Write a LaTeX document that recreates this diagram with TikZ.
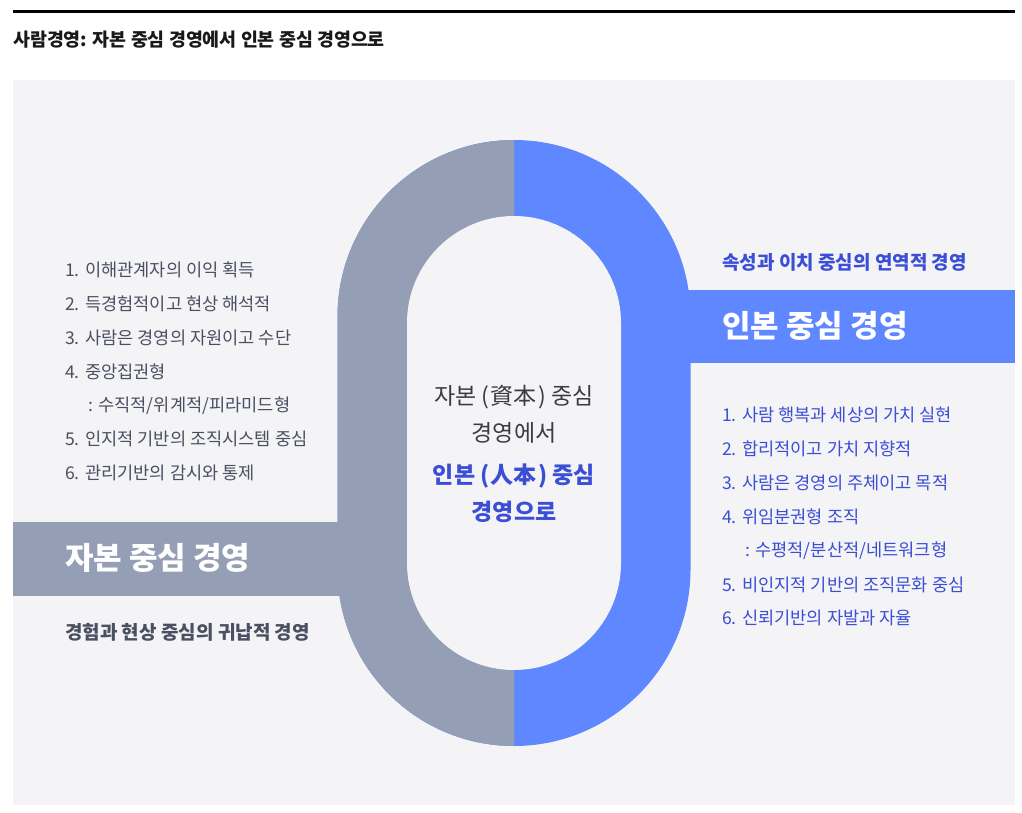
\documentclass[tikz,border=0pt]{standalone}
\usepackage{fontspec}
\setmainfont{Noto Sans CJK KR}
\definecolor{panel}{HTML}{F4F4F6}
\definecolor{ringgray}{HTML}{949FB6}
\definecolor{ringblue}{HTML}{5F87FF}
\definecolor{txtgray}{HTML}{4A5061}
\definecolor{txtblue}{HTML}{3B4ED6}
\definecolor{txtdark}{HTML}{3A3C42}
\newcommand{\pgap}{\hspace{5pt}}
\newcommand{\igap}{\hspace{1.5pt}}
\tikzset{
  lbl/.style={inner sep=0pt, anchor=west},
  listgray/.style={lbl, text=txtgray, font=\fontsize{17.6}{20}\selectfont},
  listblue/.style={lbl, text=txtblue, font=\fontsize{17.6}{20}\selectfont},
  bigwhite/.style={lbl, text=white, font=\fontsize{31}{34}\selectfont\bfseries},
  subhead/.style={lbl, font=\fontsize{19}{22}\selectfont\bfseries},
  centertxt/.style={inner sep=0pt, anchor=center, font=\fontsize{23}{26}\selectfont},
}
\begin{document}
\begin{tikzpicture}[x=1pt,y=-1pt]
\useasboundingbox (0,0) rectangle (1022,813);
\fill[white] (0,0) rectangle (1022,813);
% top rule and title
\fill[black] (13,10) rectangle (1015,13);
\node[lbl, text=black!90, font=\fontsize{18.4}{22}\selectfont\bfseries] (title) at (13,40) {사람경영: 자본 중심 경영에서 인본 중심 경영으로};
% panel
\fill[panel] (13,80) rectangle (1015,805);
% ring
\fill[ringblue] (337.5,316.5) arc[start angle=180, end angle=0, radius=176.5pt] -- (690.5,569.5) arc[start angle=0, end angle=-180, radius=176.5pt] -- cycle;
\begin{scope}
\clip (300,100) rectangle (514,780);
\fill[ringgray] (337.5,316.5) arc[start angle=180, end angle=0, radius=176.5pt] -- (690.5,569.5) arc[start angle=0, end angle=-180, radius=176.5pt] -- cycle;
\end{scope}
\fill[panel] (407,323) arc[start angle=180, end angle=0, radius=107pt] -- (621,563) arc[start angle=0, end angle=-180, radius=107pt] -- cycle;
% bars
\fill[ringgray] (13,522) rectangle (360,596);
\fill[ringblue] (670,290) rectangle (1015,363);
\node[bigwhite] (capital) at (65,558) {자본 중심 경영};
\node[bigwhite] (human) at (722,326) {인본 중심 경영};
\node[subhead, text=txtgray] (capsub) at (65,632) {경험과 현상 중심의 귀납적 경영};
\node[subhead, text=txtblue] (humsub) at (722,262) {속성과 이치 중심의 연역적 경영};
% left list
\node[listgray] (l1) at (65,270) {1. 이해관계자의 이익 획득};
\node[listgray] (l2) at (65,304) {2. 득경험적이고 현상 해석적};
\node[listgray] (l3) at (65,338) {3. 사람은 경영의 자원이고 수단};
\node[listgray] (l4) at (65,372) {4. 중앙집권형};
\node[listgray] (l5) at (88,406) {: 수직적/위계적/피라미드형};
\node[listgray] (l6) at (65,439) {5. 인지적 기반의 조직시스템 중심};
\node[listgray] (l7) at (65,473) {6. 관리기반의 감시와 통제};
% right list
\node[listblue] (r1) at (722,415) {1. 사람 행복과 세상의 가치 실현};
\node[listblue] (r2) at (722,449) {2. 합리적이고 가치 지향적};
\node[listblue] (r3) at (722,483) {3. 사람은 경영의 주체이고 목적};
\node[listblue] (r4) at (722,517) {4. 위임분권형 조직};
\node[listblue] (r5) at (745,551) {: 수평적/분산적/네트워크형};
\node[listblue] (r6) at (722,585) {5. 비인지적 기반의 조직문화 중심};
\node[listblue] (r7) at (722,618) {6. 신뢰기반의 자발과 자율};
% center
\node[centertxt, text=txtdark] (c1) at (514,397) {자본\pgap(\igap 資本\igap)\pgap 중심};
\node[centertxt, text=txtdark] (c2) at (514,433) {경영에서};
\node[centertxt, text=txtblue, font=\fontsize{23}{26}\selectfont\bfseries] (c3) at (514,476) {인본\pgap(\igap 人本\igap)\pgap 중심};
\node[centertxt, text=txtblue, font=\fontsize{23}{26}\selectfont\bfseries] (c4) at (514,512) {경영으로};
\end{tikzpicture}
\end{document}
